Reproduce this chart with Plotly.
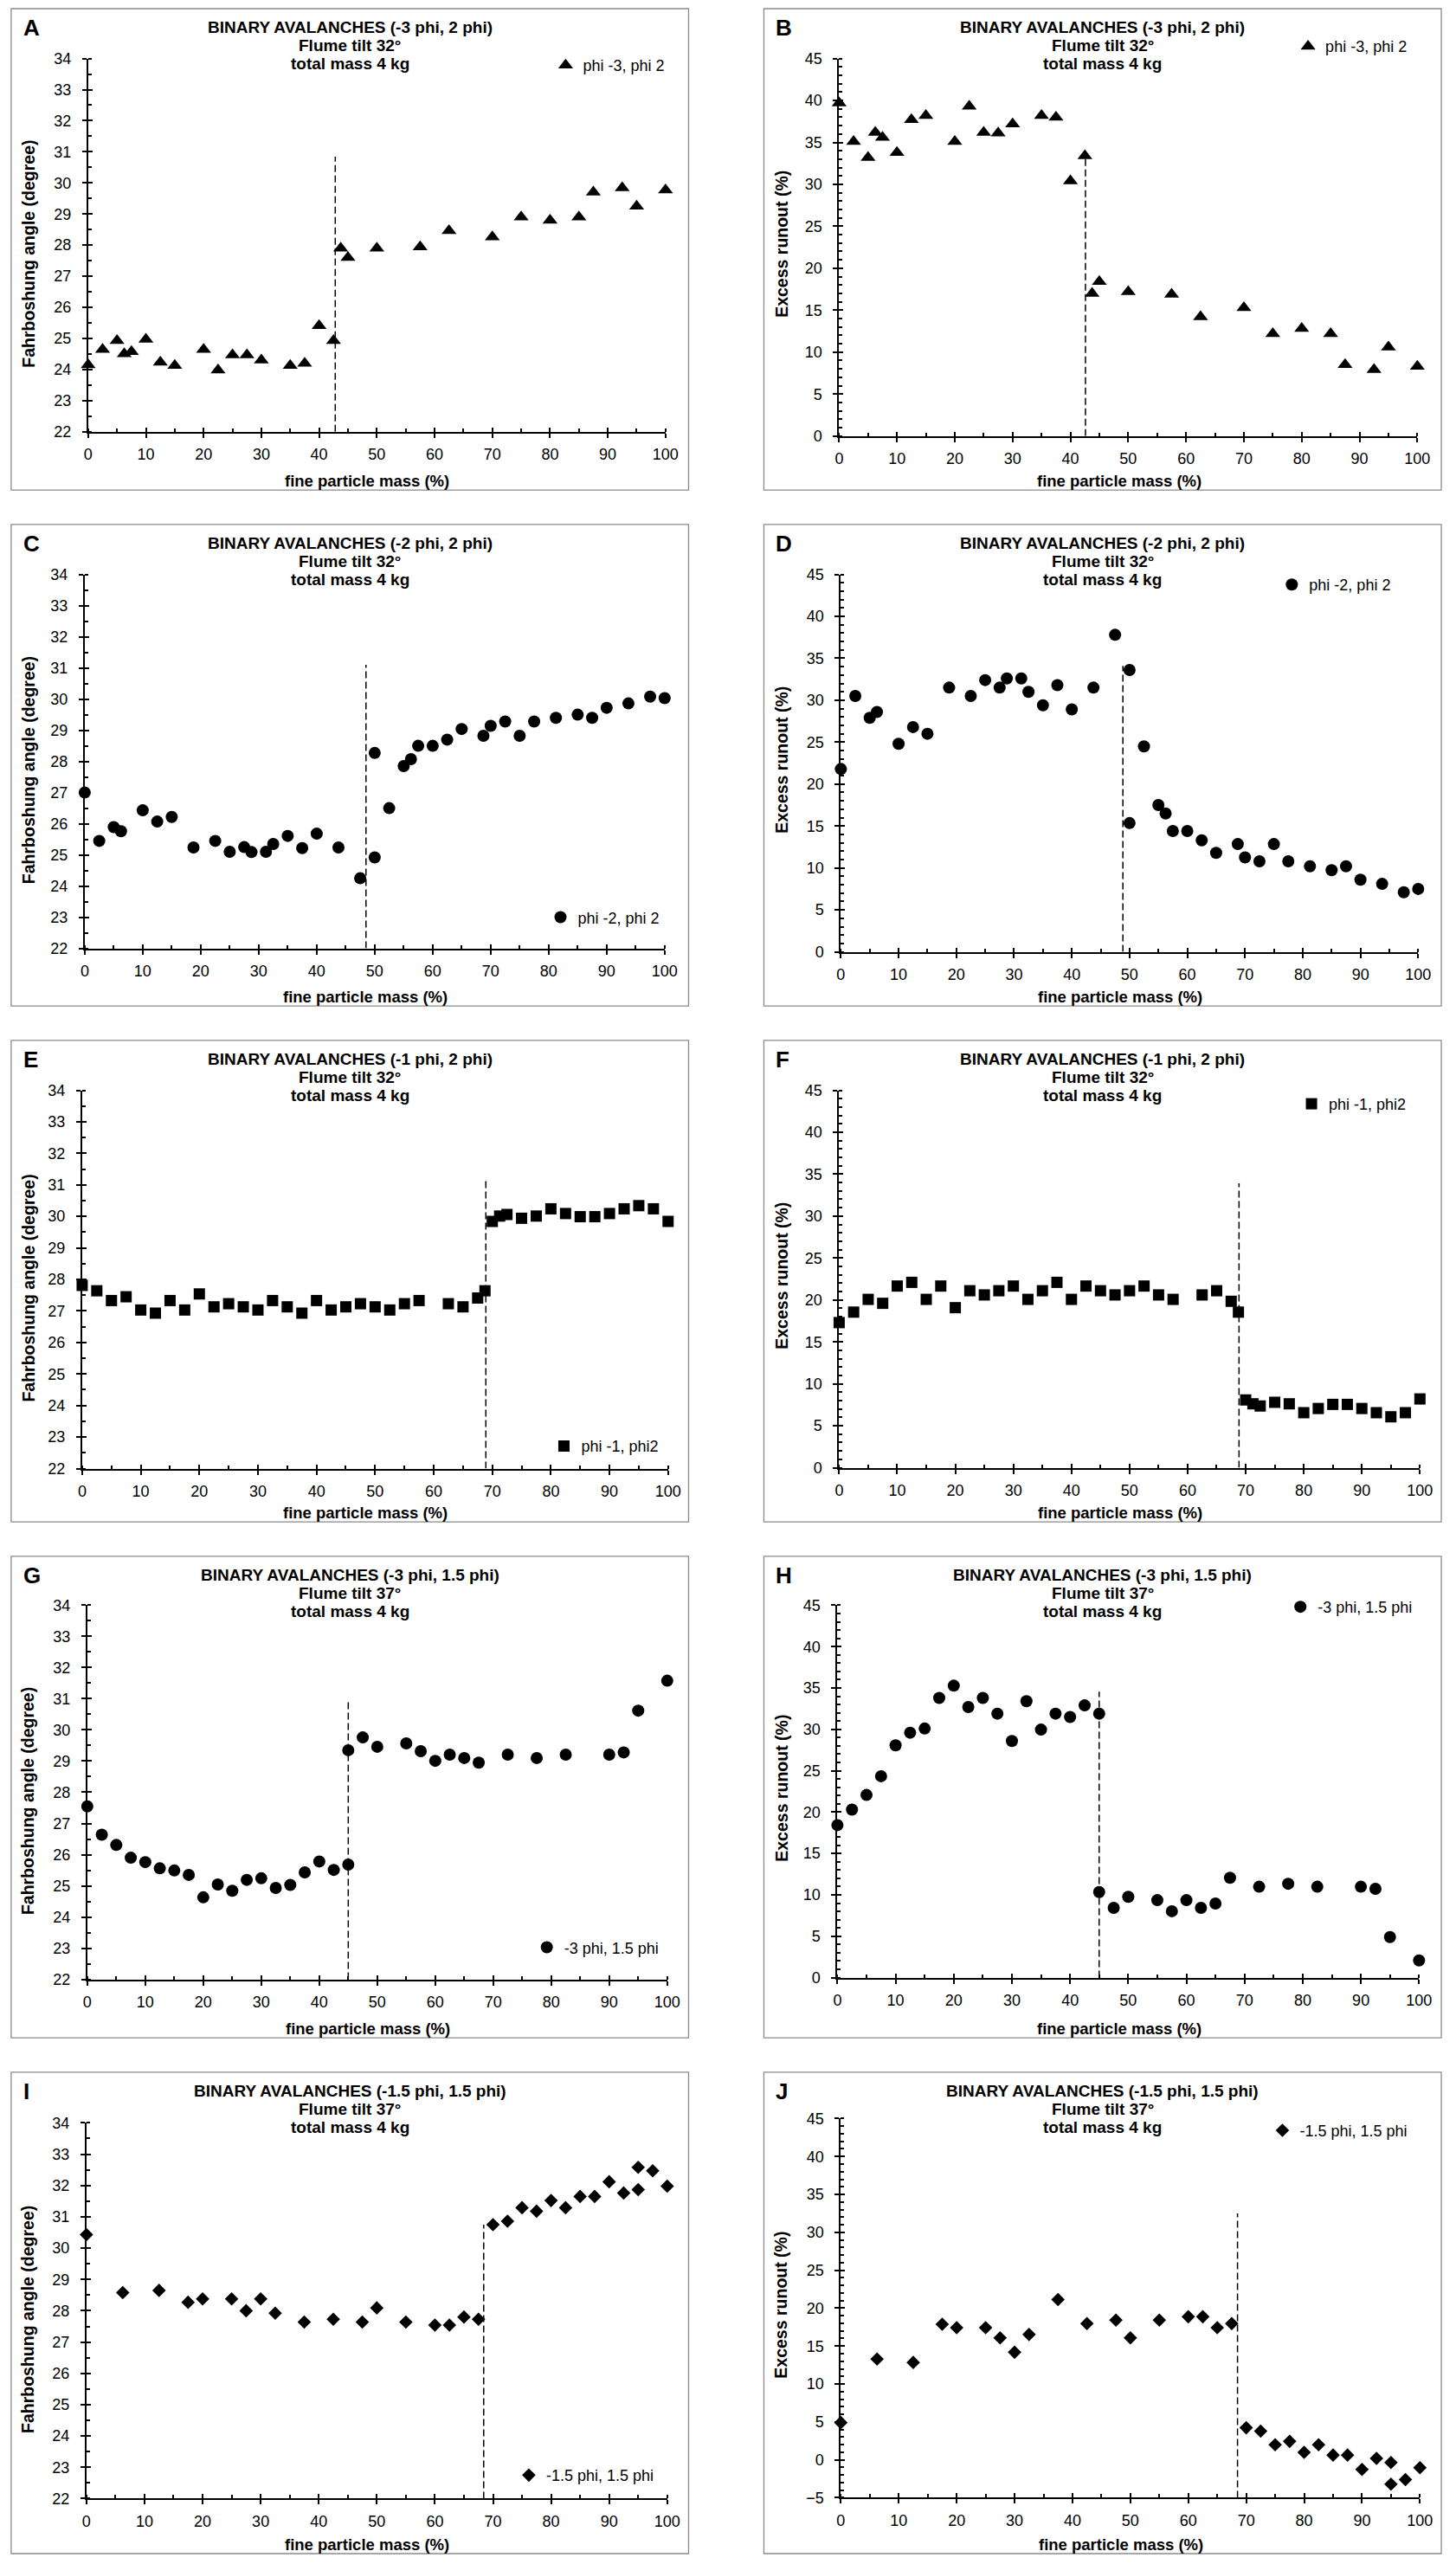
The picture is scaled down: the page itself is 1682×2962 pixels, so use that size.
import plotly.graph_objects as go

# values (fine particle mass in %, angle in degree, runout in %)
ab_x = [0, 2.5, 5, 6.25, 7.5, 10, 12.5, 15, 20, 22.5, 25, 27.5, 30, 35, 37.5,
        40, 42.5, 43.75, 45, 50, 57.5, 62.5, 70, 75, 80, 85, 87.5, 92.5, 95, 100]
a_angle = [24.15, 24.64, 24.93, 24.5, 24.57, 24.97, 24.23, 24.13, 24.64, 23.98,
           24.47, 24.47, 24.3, 24.13, 24.2, 25.41, 24.93, 27.9, 27.6, 27.9,
           27.94, 28.46, 28.26, 28.9, 28.8, 28.9, 29.7, 29.84, 29.25, 29.77]
b_runout = [39.7, 35.1, 33.2, 36.2, 35.6, 33.8, 37.7, 38.2, 35.1, 39.3,
            36.2, 36.1, 37.2, 38.2, 38.0, 30.4, 33.4, 17.0, 18.4, 17.2,
            16.9, 14.2, 15.3, 12.2, 12.8, 12.2, 8.5, 7.9, 10.6, 8.3]

cd_x = [0, 2.5, 5, 6.25, 10, 12.5, 15, 18.75, 22.5, 25, 27.5, 28.75, 31.25, 32.5,
        35, 37.5, 40, 43.75, 47.5, 50, 50, 52.5, 55, 56.25, 57.5, 60, 62.5, 65,
        68.75, 70, 72.5, 75, 77.5, 81.25, 85, 87.5, 90, 93.75, 97.5, 100]
c_angle = [27.0, 25.45, 25.89, 25.76, 26.43, 26.07, 26.22, 25.24, 25.45, 25.1,
           25.25, 25.09, 25.1, 25.35, 25.61, 25.22, 25.68, 25.24, 24.25, 24.92,
           28.27, 26.5, 27.85, 28.07, 28.5, 28.5, 28.7, 29.04, 28.82, 29.14,
           29.28, 28.82, 29.28, 29.4, 29.5, 29.4, 29.72, 29.86, 30.08, 30.03]
d_runout = [21.8, 30.5, 27.9, 28.6, 24.8, 26.8, 26.0, 31.5, 30.5, 32.4,
            31.5, 32.6, 32.6, 31.0, 29.4, 31.8, 28.9, 31.5, 37.8, 33.6,
            15.35, 24.5, 17.5, 16.5, 14.4, 14.4, 13.3, 11.8, 12.85, 11.26,
            10.8, 12.85, 10.8, 10.2, 9.74, 10.2, 8.6, 8.1, 7.1, 7.5]

ef_x = [0, 2.5, 5, 7.5, 10, 12.5, 15, 17.5, 20, 22.5, 25, 27.5, 30, 32.5, 35,
        37.5, 40, 42.5, 45, 47.5, 50, 52.5, 55, 57.5, 62.5, 65, 67.5, 68.75,
        70, 71.25, 72.5, 75, 77.5, 80, 82.5, 85, 87.5, 90, 92.5, 95, 97.5, 100]
e_angle = [27.81, 27.64, 27.33, 27.45, 27.03, 26.93, 27.33, 27.03, 27.54, 27.13,
           27.23, 27.13, 27.03, 27.33, 27.13, 26.93, 27.33, 27.03, 27.13, 27.23,
           27.13, 27.03, 27.23, 27.33, 27.23, 27.13, 27.41, 27.64, 29.84, 30.01,
           30.06, 29.94, 30.01, 30.24, 30.09, 29.99, 29.99, 30.09, 30.24, 30.34,
           30.24, 29.84]
f_runout = [17.3, 18.55, 20.07, 19.6, 21.66, 22.1, 20.07, 21.66, 19.08, 21.1,
            20.6, 21.1, 21.66, 20.07, 21.1, 22.1, 20.07, 21.66, 21.1, 20.6,
            21.1, 21.66, 20.6, 20.07, 20.6, 21.1, 19.84, 18.55, 8.08, 7.62,
            7.36, 7.8, 7.62, 6.56, 7.06, 7.55, 7.55, 7.06, 6.56, 6.07,
            6.56, 8.2]

gh_x = [0, 2.5, 5, 7.5, 10, 12.5, 15, 17.5, 20, 22.5, 25, 27.5, 30, 32.5, 35,
        37.5, 40, 42.5, 45, 45, 47.5, 50, 55, 57.5, 60, 62.5, 65, 67.5, 72.5,
        77.5, 82.5, 90, 92.5, 95, 100]
g_angle = [27.55, 26.64, 26.31, 25.9, 25.76, 25.56, 25.49, 25.35, 24.63, 25.04,
           24.84, 25.19, 25.24, 24.93, 25.03, 25.43, 25.78, 25.51, 25.68, 29.35,
           29.76, 29.46, 29.57, 29.32, 29.01, 29.21, 29.1, 28.95, 29.21, 29.1,
           29.21, 29.21, 29.28, 30.62, 31.58]
h_runout = [18.43, 20.3, 22.07, 24.34, 28.07, 29.6, 30.1, 33.8, 35.28, 32.7,
            33.8, 31.9, 28.6, 33.4, 29.97, 31.9, 31.5, 32.9, 31.9, 10.33,
            8.42, 9.76, 9.36, 8.02, 9.36, 8.42, 8.95, 12.07, 10.98, 11.34,
            10.98, 10.98, 10.73, 4.9, 2.07]

ij_x = [0, 6.25, 12.5, 17.5, 20, 25, 27.5, 30, 32.5, 37.5, 42.5, 47.5, 50, 55,
        60, 62.5, 65, 67.5, 70, 72.5, 75, 77.5, 80, 82.5, 85, 87.5, 90, 92.5,
        95, 95, 97.5, 100]
i_angle = [30.43, 28.58, 28.65, 28.27, 28.38, 28.38, 28.0, 28.38, 27.92, 27.64,
           27.73, 27.64, 28.09, 27.64, 27.54, 27.54, 27.8, 27.73, 30.75, 30.86,
           31.29, 31.18, 31.52, 31.29, 31.65, 31.65, 32.12, 31.76, 31.87, 32.58,
           32.47, 31.98]
j_runout = [4.91, 13.29, 12.84, 17.88, 17.43, 17.43, 16.08, 14.19, 16.53, 21.13,
            17.97, 18.42, 16.08, 18.42, 18.87, 18.87, 17.43, 17.97, 4.23, 3.78,
            1.98, 2.43, 0.99, 1.98, 0.63, 0.63, -1.26, 0.18, -0.36, -3.2,
            -2.61, -1.04]

# dashed separator: position and top end, panels A..J
split_x = [42.8, 42.6, 48.5, 48.85, 68.9, 68.85, 45, 45, 68.4, 68.5]
split_top = [30.84, 33.1, 31.1, 34.1, 31.12, 33.9, 30.96, 34.55, 30.75, 32.5]

mixtures = ["-3 phi, 2 phi", "-2 phi, 2 phi", "-1 phi, 2 phi",
            "-3 phi, 1.5 phi", "-1.5 phi, 1.5 phi"]
tilts = [32, 32, 32, 37, 37]
series_names = ["phi -3, phi 2", "phi -2, phi 2", "phi -1, phi2",
                "-3 phi, 1.5 phi", "-1.5 phi, 1.5 phi"]
angle_range = [22, 34]
runout_range = [0, 45]
runout_range_j = [-5, 45]
x_range = [0, 100]

xs = [ab_x, ab_x, cd_x, cd_x, ef_x, ef_x, gh_x, gh_x, ij_x, ij_x]
ys = [a_angle, b_runout, c_angle, d_runout, e_angle, f_runout,
      g_angle, h_runout, i_angle, j_runout]
yranges = [angle_range, runout_range] * 4 + [angle_range, runout_range_j]

# ---- page geometry (pixels) ----
W, H = 1682, 2962
FONT = "Liberation Sans, Arial, sans-serif"

# letter, frame left/top, plot left/right/top/bottom
panels = [
    ("A", 8, 0, 98, 773, 58, 492),
    ("B", 888, 0, 976, 1652, 58, 497),
    ("C", 8, 600, 94, 772, 658, 1093),
    ("D", 888, 600, 978, 1653, 658, 1097),
    ("E", 8, 1200, 91, 776, 1258, 1698),
    ("F", 888, 1200, 976, 1655, 1258, 1697),
    ("G", 8, 1800, 97, 775, 1857, 2292),
    ("H", 888, 1800, 974, 1654, 1857, 2290),
    ("I", 8, 2400, 96, 775, 2459, 2896),
    ("J", 888, 2400, 978, 1655, 2454, 2895),
]
# legend text start x, legend centre y
legend_pos = [(676, 66), (1544, 44), (670, 1057), (1525, 670), (674, 1672),
              (1548, 1274), (654, 2255), (1535, 1859), (633, 2869), (1514, 2468)]
symbols = ["triangle-up", "circle", "square", "circle", "diamond"]
sizes = [15, 14, 13, 14, 12]
FRAME_W, FRAME_H = 792, 560


def px(x):
    return x / W


def py(y):
    return 1 - y / H


def note(text, x, y, size, bold=True, **kw):
    d = dict(text=text, x=px(x), y=py(y), xref="paper", yref="paper",
             xanchor="center", yanchor="middle", showarrow=False,
             font=dict(family=FONT, size=size, color="black",
                       weight="bold" if bold else "normal"))
    d.update(kw)
    return d


fig = go.Figure()
annotations = []
shapes = []
layout = {}

for i, (letter, fx, fy, x0, x1, y0, y1) in enumerate(panels):
    n = i + 1
    row = i // 2
    left = i % 2 == 0
    sfx = "" if n == 1 else str(n)
    osfx = str(n + 10)   # overlay axes carrying the inner half of the cross ticks
    lg = "legend" + sfx

    fig.add_trace(go.Scatter(
        x=[split_x[i], split_x[i]], y=[yranges[i][0], split_top[i]],
        mode="lines", line=dict(color="black", width=1.5, dash="8px,4px"),
        xaxis="x" + sfx, yaxis="y" + sfx, showlegend=False, hoverinfo="skip"))
    fig.add_trace(go.Scatter(
        x=xs[i], y=ys[i], mode="markers", name=series_names[row],
        marker=dict(symbol=symbols[row], size=sizes[row], color="black"),
        xaxis="x" + sfx, yaxis="y" + sfx, legend=lg, cliponaxis=False))
    fig.add_trace(go.Scatter(x=[], y=[], xaxis="x" + osfx, yaxis="y" + sfx,
                             showlegend=False, hoverinfo="skip"))
    fig.add_trace(go.Scatter(x=[], y=[], xaxis="x" + sfx, yaxis="y" + osfx,
                             showlegend=False, hoverinfo="skip"))

    common = dict(showline=True, linecolor="black", linewidth=2,
                  ticks="outside", ticklen=5, tickwidth=2, tickcolor="black",
                  showgrid=False, zeroline=False,
                  tickfont=dict(family=FONT, size=18, color="black"))
    inner = dict(showline=False, ticks="inside", ticklen=5, tickwidth=2,
                 tickcolor="black", showgrid=False, zeroline=False,
                 showticklabels=False)
    ydt = 1 if left else 5
    layout["xaxis" + sfx] = dict(
        common, domain=[px(x0), px(x1)], range=x_range, dtick=10,
        anchor="y" + sfx, ticklabelstandoff=4,
        minor=dict(ticks="inside", ticklen=4, tickwidth=1.5,
                   tickcolor="black", dtick=5))
    layout["yaxis" + sfx] = dict(
        common, domain=[py(y1), py(y0)], range=yranges[i],
        dtick=ydt, anchor="x" + sfx, ticklabelstandoff=9,
        minor=dict(ticks="inside", ticklen=4, tickwidth=1.5,
                   tickcolor="black", dtick=0.5 if left else 1))
    layout["xaxis" + osfx] = dict(inner, overlaying="x" + sfx, anchor="y" + sfx,
                                  range=x_range, dtick=10)
    layout["yaxis" + osfx] = dict(inner, overlaying="y" + sfx, anchor="x" + sfx,
                                  range=yranges[i], dtick=ydt)

    lx, ly = legend_pos[i]
    layout[lg] = dict(x=px(lx - 40), y=py(ly), xanchor="left", yanchor="middle",
                      bgcolor="rgba(0,0,0,0)", itemwidth=30,
                      font=dict(family=FONT, size=18, color="black"))

    shapes.append(dict(type="rect", xref="paper", yref="paper",
                       x0=px(fx), x1=px(fx + FRAME_W), y0=py(fy), y1=py(fy + FRAME_H),
                       line=dict(color="#8a8a8a", width=1.3)))

    annotations.append(note(letter, fx + 12, fy + 22, 26, xanchor="left"))
    title_lines = ["BINARY AVALANCHES (%s)" % mixtures[row],
                   "Flume tilt %d°" % tilts[row], "total mass 4 kg"]
    for k, t in enumerate(title_lines):
        annotations.append(note(t, fx + FRAME_W / 2, fy + 22 + 21 * k, 19))
    ytitle = "Fahrboshung angle (degree)" if left else "Excess runout (%)"
    annotations.append(note(ytitle, fx + 20, (y0 + y1) / 2 + (10 if left else -4),
                            19.5, textangle=-90))
    annotations.append(note("fine particle mass (%)", (x0 + x1) / 2 - 11, fy + 549, 18.5))

fig.update_layout(layout)
fig.update_layout(width=W, height=H, margin=dict(l=0, r=0, t=0, b=0),
                  paper_bgcolor="white", plot_bgcolor="white",
                  annotations=annotations, shapes=shapes, showlegend=True)

fig.write_html("out.html", config={"displayModeBar": False},
               post_script="document.body.style.margin='0px';"
                           "document.documentElement.style.margin='0px';")
